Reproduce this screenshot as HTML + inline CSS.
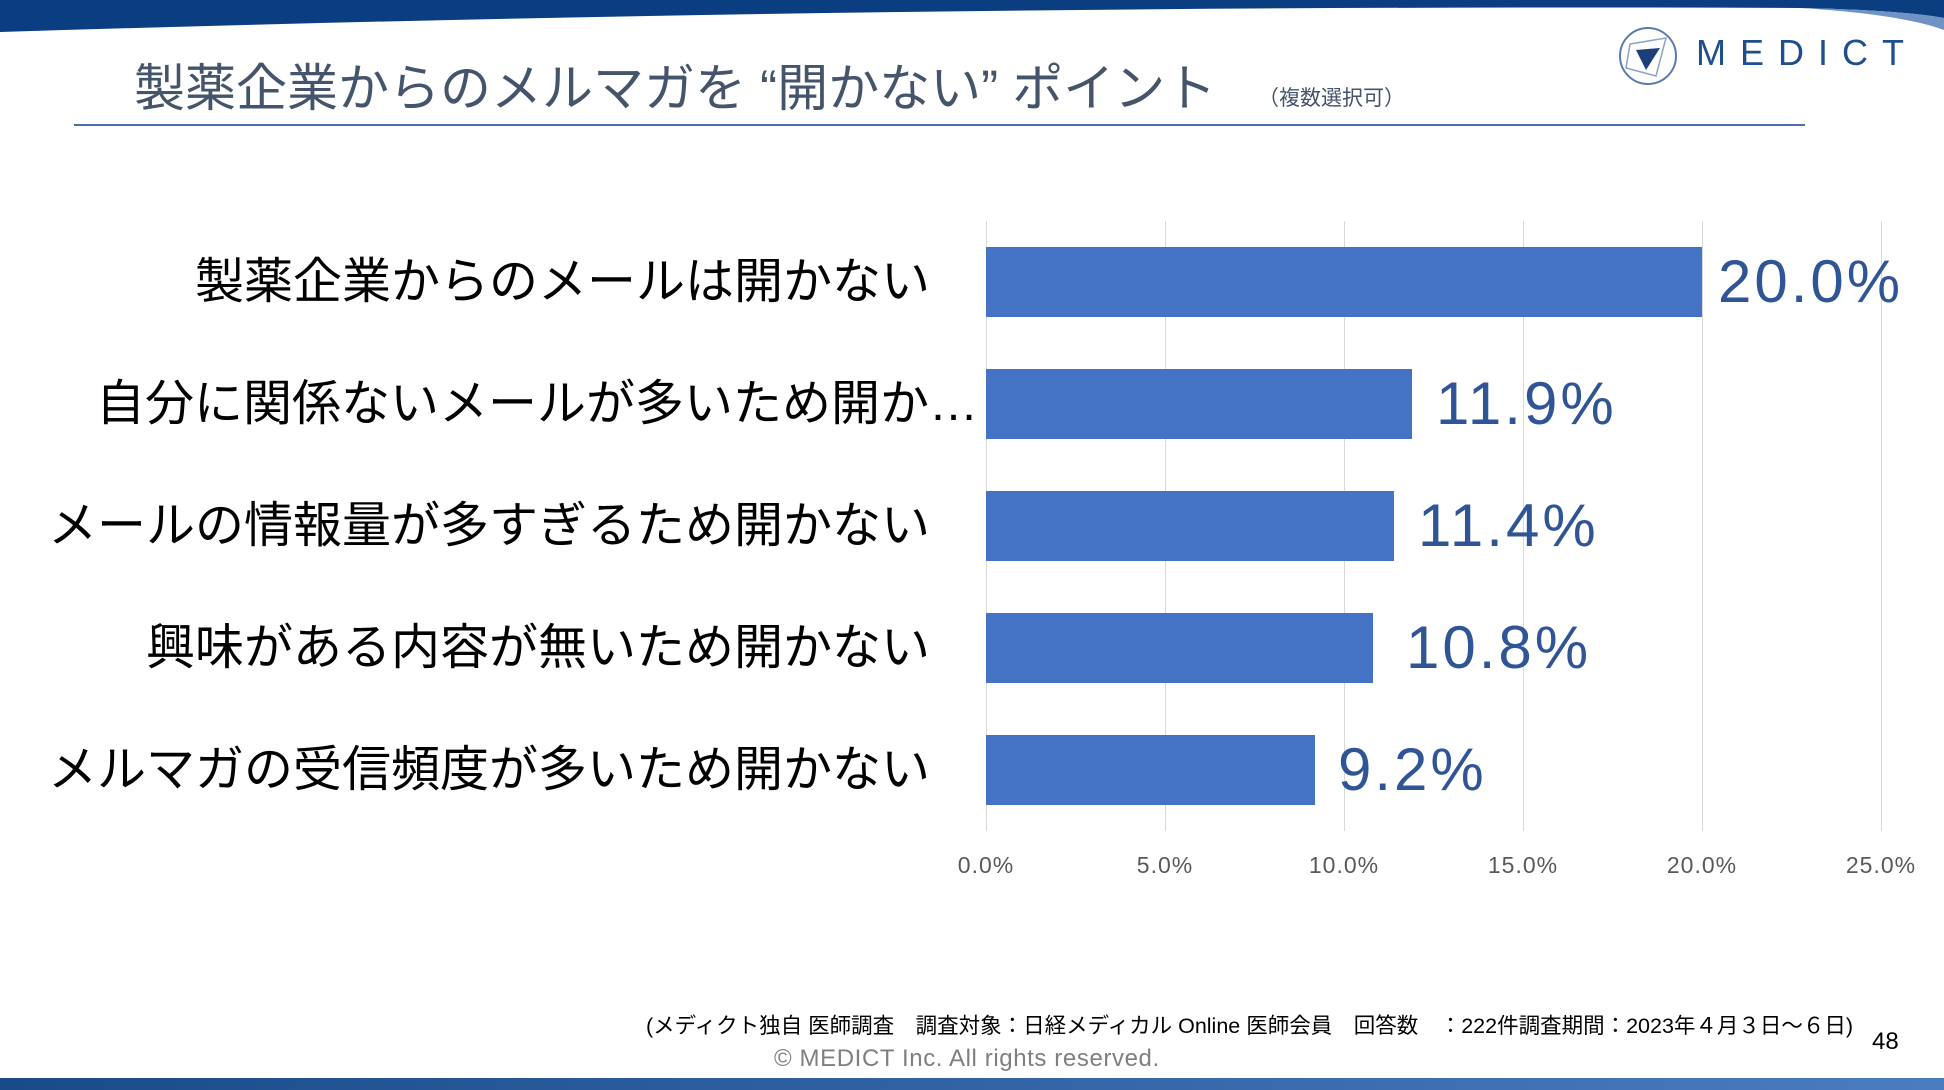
<!DOCTYPE html>
<html><head><meta charset="utf-8"><style>
body{margin:0;width:1944px;height:1090px;position:relative;overflow:hidden;background:#fff;font-family:"Liberation Sans","Noto Sans CJK JP",sans-serif}
.a{position:absolute;white-space:nowrap}
.cat{position:absolute;right:1014px;font-size:49px;color:#000;line-height:70px}
.bar{position:absolute;left:986px;height:70px;background:#4472C4}
.val{position:absolute;font-size:60px;color:#2F5597;line-height:70px;letter-spacing:3px}
.tick{position:absolute;top:852px;font-size:23px;color:#595959;width:120px;text-align:center;letter-spacing:1px}
.g{position:absolute;top:221px;height:610px;width:1px;background:#d9d9d9}
</style></head><body>
<svg class="a" style="left:0;top:0" width="1944" height="40"><path d="M0 0H1944V18Q1900 10 1800 8Q900 4 0 32Z" fill="#0b3e80"/><path d="M1800 8Q1900 10 1944 18V30Q1900 14 1800 8Z" fill="#6f93c4"/></svg>
<div class="a" style="left:134px;top:58px;font-size:51px;color:#44546A;line-height:62px">製薬企業からのメルマガを “開かない” ポイント</div>
<div class="a" style="left:1258px;top:82px;font-size:21px;color:#44546A">（複数選択可）</div>
<div class="a" style="left:74px;top:124px;width:1731px;height:2px;background:#4a6fa8"></div>
<svg class="a" style="left:1616px;top:24px" width="64" height="64"><circle cx="32" cy="32" r="28" fill="none" stroke="#5a7bb0" stroke-width="2"/><path d="M14 20L50 14L40 52L10 44Z" fill="none" stroke="#8aa3c8" stroke-width="1.5"/><path d="M20 26L44 24L30 46Z" fill="#1a3f7a"/></svg>
<div class="a" style="left:1696px;top:32px;font-size:36px;color:#1f4e8c;letter-spacing:14px">MEDICT</div>
<div class="g" style="left:986px"></div><div class="g" style="left:1165px"></div><div class="g" style="left:1344px"></div><div class="g" style="left:1523px"></div><div class="g" style="left:1702px"></div><div class="g" style="left:1881px"></div>
<div class="cat" style="top:247px">製薬企業からのメールは開かない</div>
<div class="cat" style="top:369px;right:966px">自分に関係ないメールが多いため開か…</div>
<div class="cat" style="top:491px">メールの情報量が多すぎるため開かない</div>
<div class="cat" style="top:613px">興味がある内容が無いため開かない</div>
<div class="cat" style="top:735px">メルマガの受信頻度が多いため開かない</div>
<div class="bar" style="top:247px;width:716px"></div><div class="val" style="top:247px;left:1718px">20.0%</div>
<div class="bar" style="top:369px;width:426px"></div><div class="val" style="top:369px;left:1436px">11.9%</div>
<div class="bar" style="top:491px;width:408px"></div><div class="val" style="top:491px;left:1418px">11.4%</div>
<div class="bar" style="top:613px;width:387px"></div><div class="val" style="top:613px;left:1406px">10.8%</div>
<div class="bar" style="top:735px;width:329px"></div><div class="val" style="top:735px;left:1338px">9.2%</div>
<div class="tick" style="left:926px">0.0%</div><div class="tick" style="left:1105px">5.0%</div><div class="tick" style="left:1284px">10.0%</div><div class="tick" style="left:1463px">15.0%</div><div class="tick" style="left:1642px">20.0%</div><div class="tick" style="left:1821px">25.0%</div>
<div class="a" style="left:646px;top:1009px;font-size:21.5px;color:#000">(メディクト独自 医師調査　調査対象：日経メディカル Online 医師会員　回答数　：222件調査期間：2023年４月３日～６日)</div>
<div class="a" style="left:1872px;top:1028px;font-size:24px;color:#000">48</div>
<div class="a" style="left:774px;top:1045px;font-size:24px;color:#7f7f7f;letter-spacing:0.6px">© MEDICT Inc.  All rights reserved.</div>
<div class="a" style="left:0;top:1078px;width:1944px;height:12px;background:linear-gradient(90deg,#1a4a8a,#4a7cc0)"></div>
</body></html>
